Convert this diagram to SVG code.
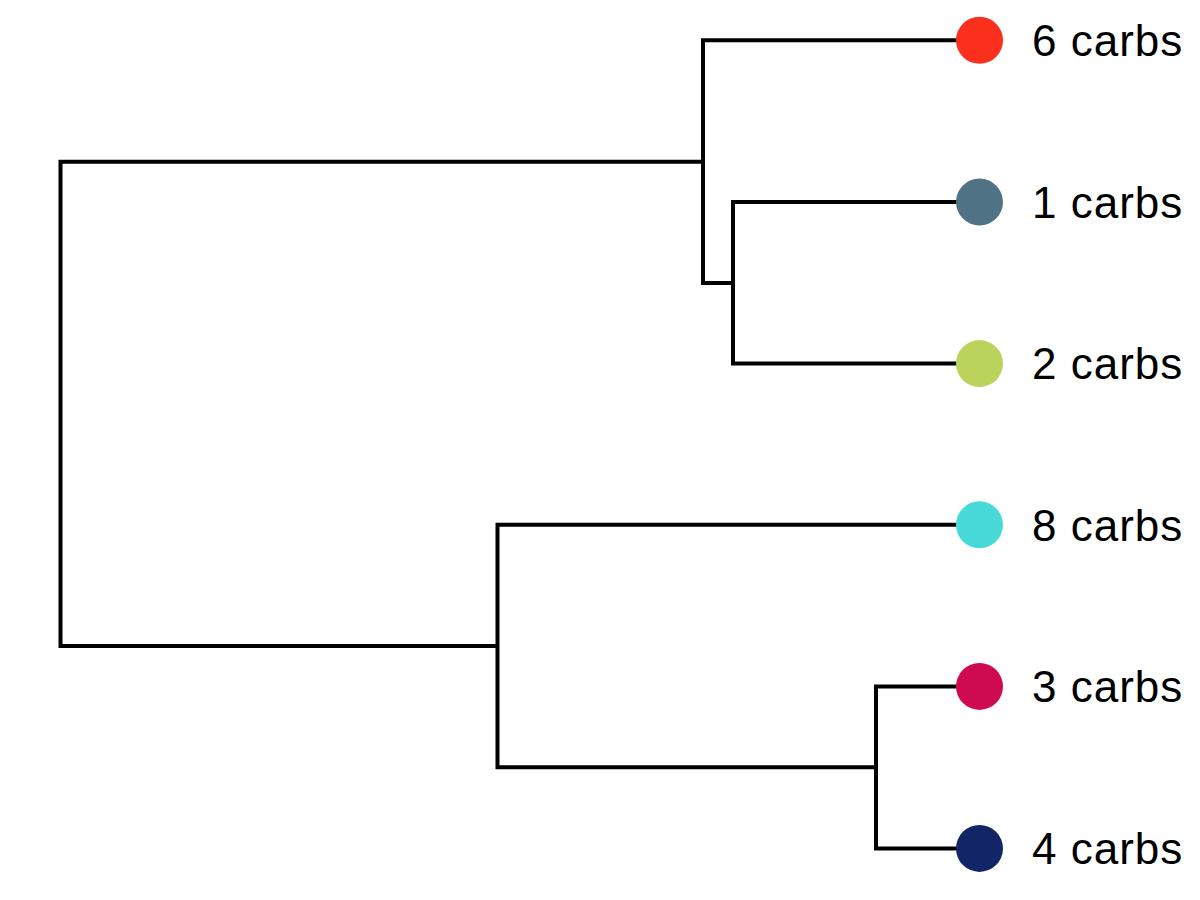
<svg xmlns="http://www.w3.org/2000/svg" width="1200" height="900" viewBox="0 0 1200 900">
<style>
.edge{fill:none;stroke:#000;stroke-width:4;stroke-linejoin:miter;stroke-linecap:butt}
.lbl{font-family:"Liberation Sans",Arial,sans-serif;font-size:44px;fill:#000;letter-spacing:1px}
</style>
<rect width="1200" height="900" fill="#fff"/>
<g id="connectors">
<path class="edge" d="M703 161.7 H60.5 V646 H497.5"/>
<path class="edge" d="M979 40.3 H703 V283 H733"/>
<path class="edge" d="M979 202 H733 V363.6 H979"/>
<path class="edge" d="M979 524.8 H497.5 V767.3 H876"/>
<path class="edge" d="M979 686.4 H876 V848.4 H979"/>
</g>
<g id="leaf6"><circle cx="979.5" cy="40.3" r="23.5" fill="#FA2F1C"/><text class="lbl" x="1032" y="56">6 carbs</text></g>
<g id="leaf1"><circle cx="979.5" cy="202" r="23.5" fill="#507285"/><text class="lbl" x="1032" y="217.7">1 carbs</text></g>
<g id="leaf2"><circle cx="979.5" cy="363.6" r="23.5" fill="#BAD45B"/><text class="lbl" x="1032" y="379.3">2 carbs</text></g>
<g id="leaf8"><circle cx="979.5" cy="524.8" r="23.5" fill="#48D9D9"/><text class="lbl" x="1032" y="540.5">8 carbs</text></g>
<g id="leaf3"><circle cx="979.5" cy="686.4" r="23.5" fill="#CE0A51"/><text class="lbl" x="1032" y="702.1">3 carbs</text></g>
<g id="leaf4"><circle cx="979.5" cy="848.4" r="23.5" fill="#122566"/><text class="lbl" x="1032" y="864.1">4 carbs</text></g>
</svg>
